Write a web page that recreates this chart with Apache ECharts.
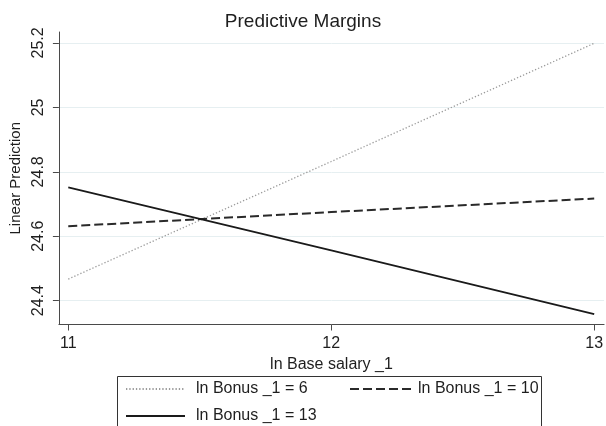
<!DOCTYPE html>
<html>
<head>
<meta charset="utf-8">
<script src="https://cdn.jsdelivr.net/npm/echarts@6/dist/echarts.min.js"></script>
<style>
html,body{margin:0;padding:0;background:#fff;}
#chart{width:606px;height:426px;}
</style>
</head>
<body>
<div id="chart"></div>
<script>
// ---- data ----
const xValues = [11, 12, 13];
const bonus6 = [24.467, 24.832, 25.199];
const bonus10 = [24.631, 24.675, 24.717];
const bonus13 = [24.752, 24.556, 24.358];
const seriesNames = ['ln Bonus _1 = 6', 'ln Bonus _1 = 10', 'ln Bonus _1 = 13'];
const xTicks = [11, 12, 13];
const yTicks = [24.4, 24.6, 24.8, 25, 25.2];

const FONT = 'Liberation Sans, Arial, sans-serif';
const TXT = '#1e1e1e';
const pairs = ys => xValues.map((x, i) => [x, ys[i]]);

const chart = echarts.init(document.getElementById('chart'), null, {renderer: 'canvas'});
const axisColor = '#4a4a4a';
const legendText = pad => ({fontFamily: FONT, fontSize: 16, color: TXT, padding: [0, 0, 0, pad]});
const option = {
  backgroundColor: '#fff',
  animation: false,
  title: {
    text: 'Predictive Margins',
    left: 'center', top: 7,
    textStyle: {fontFamily: FONT, fontSize: 19, fontWeight: 'normal', color: TXT}
  },
  grid: {left: 53, top: 32, right: 0, bottom: 101.5, containLabel: false},
  xAxis: {
    type: 'value',
    min: 10.9644, max: 13.0375,
    name: 'ln Base salary _1',
    nameLocation: 'middle',
    nameGap: 23,
    nameTextStyle: {fontFamily: FONT, fontSize: 16, color: TXT},
    axisLine: {show: true, lineStyle: {color: axisColor, width: 1}},
    axisTick: {show: true, length: 6, lineStyle: {color: axisColor}, customValues: xTicks},
    axisLabel: {fontFamily: FONT, fontSize: 16, color: TXT, margin: 11, customValues: xTicks,
      formatter: v => String(v)},
    splitLine: {show: false}
  },
  yAxis: {
    type: 'value',
    min: 24.326, max: 25.234,
    name: 'Linear Prediction',
    nameLocation: 'middle',
    nameGap: 28,
    nameTextStyle: {fontFamily: FONT, fontSize: 15, color: TXT},
    axisLine: {show: true, lineStyle: {color: axisColor, width: 1}},
    axisTick: {show: true, length: 6, lineStyle: {color: axisColor}, customValues: yTicks},
    axisLabel: {fontFamily: FONT, fontSize: 16, color: TXT, margin: 12, rotate: 90,
      customValues: yTicks, formatter: v => String(+v.toFixed(1))},
    splitLine: {show: true, lineStyle: {color: '#e6eff1', width: 1}}
  },
  legend: [
    {data: [seriesNames[0]], left: 125, top: 381, padding: 0, itemWidth: 59, itemHeight: 16,
     itemStyle: {opacity: 0}, textStyle: legendText(6)},
    {data: [seriesNames[1]], left: 349, top: 381, padding: 0, itemWidth: 61, itemHeight: 16,
     itemStyle: {opacity: 0}, textStyle: legendText(2)},
    {data: [seriesNames[2]], left: 125, top: 408, padding: 0, itemWidth: 59, itemHeight: 16,
     itemStyle: {opacity: 0}, textStyle: legendText(6)}
  ],
  graphic: [
    {type: 'rect', shape: {x: 117.5, y: 376.5, width: 424, height: 60},
     style: {fill: 'none', stroke: '#333', lineWidth: 1}, silent: true}
  ],
  series: [
    {name: seriesNames[0], type: 'line', data: pairs(bonus6), symbol: 'none',
     lineStyle: {color: '#9a9a9a', width: 1.3, type: [1.3, 2]}, itemStyle: {color: '#9a9a9a'}},
    {name: seriesNames[1], type: 'line', data: pairs(bonus10), symbol: 'none',
     lineStyle: {color: '#2a2a2a', width: 2, type: [9, 4]}, itemStyle: {color: '#2a2a2a'}},
    {name: seriesNames[2], type: 'line', data: pairs(bonus13), symbol: 'none',
     lineStyle: {color: '#1a1a1a', width: 1.8, type: 'solid'}, itemStyle: {color: '#1a1a1a'}}
  ]
};
chart.setOption(option);
</script>
</body>
</html>
